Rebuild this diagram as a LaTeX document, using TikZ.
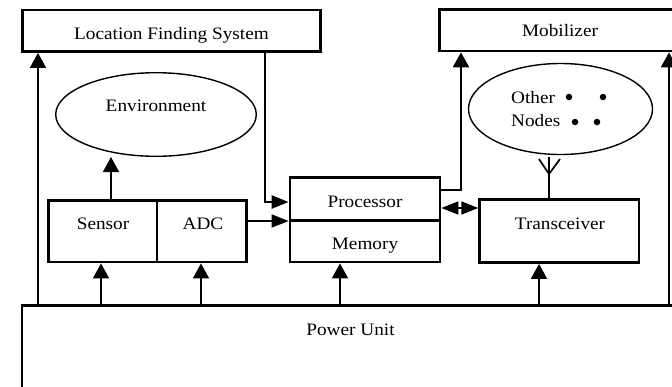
\documentclass[tikz,border=0pt]{standalone}
\usepackage{fontspec}
\usepackage{graphicx}
\setmainfont{Liberation Serif}
\usetikzlibrary{arrows.meta,shapes.geometric}
% slightly widened serif labels
\newcommand{\lbl}[1]{\scalebox{1.1}[1]{#1}}
\begin{document}
\begin{tikzpicture}[x=1pt,y=-1pt,
  box/.style={draw, rectangle, line width=2.8pt, inner sep=0pt},
  blob/.style={draw, ellipse, line width=1.4pt, inner sep=0pt},
  txt/.style={inner sep=0pt, anchor=base, font=\fontsize{17.5}{21}\selectfont},
  dot/.style={circle, fill, inner sep=0pt, minimum size=6.5pt},
  wire/.style={line width=1.7pt},
  heavy/.style={line width=2.6pt},
  upArr/.style={-{Triangle[width=16pt,length=15pt]}},
  sideArr/.style={-{Triangle[width=13pt,length=17pt]}},
  twoArr/.style={{Triangle[width=13pt,length=17pt]}-{Triangle[width=13pt,length=17pt]}}
]
\clip (0,0) rectangle (672,386);

% blocks
\node[box, minimum width=298.5pt, minimum height=41.5pt] (lfs) at (171.5,30.75) {};
\node[box, minimum width=260.5pt, minimum height=41.5pt] (mob) at (569.75,30.25) {};
\node[box, minimum width=108.5pt, minimum height=61.5pt] (sen) at (102.75,231.25) {};
\node[box, minimum width=89.8pt, minimum height=61.5pt] (adc) at (201.9,231.25) {};
\node[box, minimum width=150pt, minimum height=43.4pt] (proc) at (365,199) {};
\node[box, minimum width=150pt, minimum height=41.3pt] (mem) at (365,241.35) {};
\node[box, minimum width=159.3pt, minimum height=62.8pt] (trx) at (559.35,231.1) {};
\node[box, minimum width=678pt, minimum height=114.7pt] (pwr) at (361,362.65) {};
\node[blob, minimum width=200.6pt, minimum height=83.6pt] (env) at (156,114.5) {};
\node[blob, minimum width=184pt, minimum height=91pt] (oth) at (560.5,109) {};

% labels
\node[txt] (tLfs) at (171.5,39.3) {\lbl{Location Finding System}};
\node[txt] (tMob) at (560,36.7) {\lbl{Mobilizer}};
\node[txt] (tEnv) at (156,111) {\lbl{Environment}};
\node[txt, anchor=base west] (tOth) at (511,103.3) {\lbl{Other}};
\node[txt, anchor=base west] (tNod) at (511,126.7) {\lbl{Nodes}};
\node[txt] (tSen) at (103,229) {\lbl{Sensor}};
\node[txt] (tAdc) at (203,229) {\lbl{ADC}};
\node[txt] (tProc) at (365,207) {\lbl{Processor}};
\node[txt] (tMem) at (365,249.7) {\lbl{Memory}};
\node[txt] (tTrx) at (560,229) {\lbl{Transceiver}};
\node[txt] (tPwr) at (350.5,335) {\lbl{Power Unit}};

% node dots
\node[dot] (d1) at (569,97) {};
\node[dot] (d2) at (603,97) {};
\node[dot] (d3) at (575,122) {};
\node[dot] (d4) at (597,122) {};

% connector positions
\coordinate (kL) at (38,0);
\coordinate (kS) at (101,0);
\coordinate (kA) at (201,0);
\coordinate (kM) at (340,0);
\coordinate (kT) at (539,0);
\coordinate (kR) at (669,0);
\coordinate (kE) at (111,0);
\coordinate (kF) at (265,0);
\coordinate (kB) at (461,0);
\coordinate (yF) at (0,202);
\coordinate (yA) at (0,221);
\coordinate (yX) at (0,208);
\coordinate (yB) at (0,190);

% power feeds
\draw[wire, upArr] (pwr.north -| kL) -- (lfs.south -| kL);
\draw[wire, upArr] (pwr.north -| kS) -- (sen.south -| kS);
\draw[wire, upArr] (pwr.north -| kA) -- (adc.south -| kA);
\draw[wire, upArr] (pwr.north -| kM) -- (mem.south -| kM);
\draw[wire, upArr] (pwr.north -| kT) -- (trx.south -| kT);
\draw[wire, upArr] (pwr.north -| kR) -- (mob.south -| kR);

% data paths
\draw[wire, upArr] (sen.north -| kE) -- (env.south -| kE);
\draw[heavy, sideArr] (lfs.south -| kF) |- (proc.west |- yF);
\draw[wire, sideArr] (adc.east |- yA) -- (mem.west |- yA);
\draw[wire, twoArr] (proc.east |- yX) -- (trx.west |- yX);
\draw[heavy, upArr] (proc.east |- yB) -| (mob.south -| kB);

% antenna
\coordinate (antTop) at (549,157);
\coordinate (antV) at (549,174);
\coordinate (armL) at (539,159);
\coordinate (armR) at (560,159);
\draw[heavy] (antTop) -- (trx.north -| antTop);
\draw[wire] (armL) -- (antV) -- (armR);
\end{tikzpicture}
\end{document}
